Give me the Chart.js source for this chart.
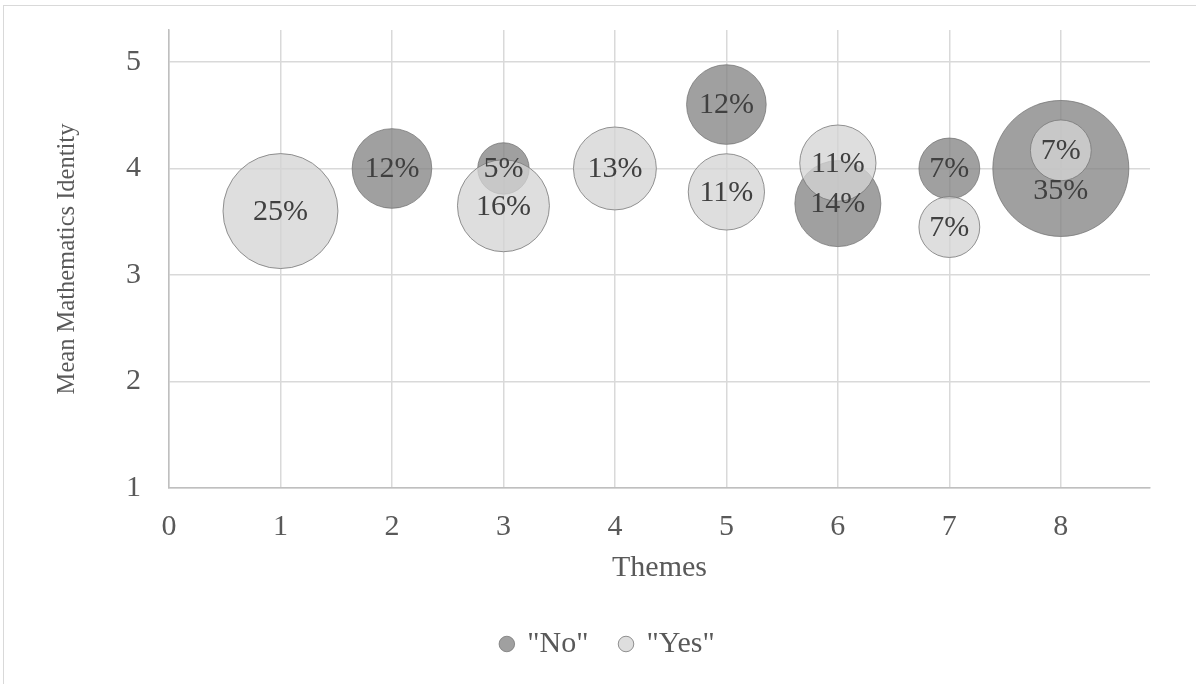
<!DOCTYPE html>
<html>
<head>
<meta charset="utf-8">
<script src="https://cdn.jsdelivr.net/npm/chart.js@4/dist/chart.umd.min.js"></script>
<style>
  html, body { margin: 0; padding: 0; background: #fff; overflow: hidden; }
  #wrap { position: relative; width: 1196px; height: 684px; }
  #frame { position: absolute; left: 3px; top: 5px; width: 1300px; height: 800px; border: 1px solid #d9d9d9; pointer-events: none; }
  canvas { position: absolute; left: 0; top: 0; }
</style>
</head>
<body>
<div id="wrap">
  <div id="frame"></div>
  <canvas id="bubbleChart" width="1196" height="684"></canvas>
</div>
<script>
// Series "No"
const themesNo = [2, 3, 5, 6, 7, 8];
const meanNo   = [4.0, 4.0, 4.6, 3.67, 4.0, 4.0];
const pctNo    = [12, 5, 12, 14, 7, 35];

// Series "Yes"
const themesYes = [1, 3, 4, 5, 6, 7, 8];
const meanYes   = [3.6, 3.65, 4.0, 3.78, 4.05, 3.45, 4.17];
const pctYes    = [25, 16, 13, 11, 11, 7, 7];

const xTicks = [0, 1, 2, 3, 4, 5, 6, 7, 8];
const yTicks = [1, 2, 3, 4, 5];

const seriesNames = ['"No"', '"Yes"'];

// bubble area proportional to the value, like Excel
const maxPct = Math.max(...pctNo, ...pctYes);
const maxRadius = 68;
function toRadius(p) { return maxRadius * Math.sqrt(p / maxPct); }

function buildPoints(xs, ys, ps) {
  return xs.map((x, i) => ({ x: x, y: ys[i], r: toRadius(ps[i]), pct: ps[i] }));
}

const serif = "'Liberation Serif', 'Times New Roman', serif";
const textGray = '#595959';

// percentage labels in the bubbles
const bubbleLabels = {
  id: 'bubbleLabels',
  afterDatasetsDraw(chart) {
    const ctx = chart.ctx;
    const items = [];
    chart.data.datasets.forEach((ds, di) => {
      const meta = chart.getDatasetMeta(di);
      meta.data.forEach((el, i) => {
        items.push({ ds: di, xv: ds.data[i].x, x: el.x, y: el.y, text: ds.data[i].pct + '%' });
      });
    });
    // push a "No" label away when it sits on top of a "Yes" label
    items.filter(a => a.ds === 0).forEach(a => {
      items.filter(b => b.ds === 1 && b.xv === a.xv).forEach(b => {
        if (Math.abs(a.y - b.y) < 30) {
          a.y = a.y >= b.y ? b.y + 40 : b.y - 40;
        }
      });
    });
    ctx.save();
    ctx.font = '30px ' + serif;
    ctx.fillStyle = '#404040';
    ctx.textAlign = 'center';
    ctx.textBaseline = 'middle';
    items.forEach(it => ctx.fillText(it.text, it.x, it.y + 1));
    ctx.restore();
  }
};

// Excel centres the legend on the whole chart frame
const legendShift = {
  id: 'legendShift',
  afterLayout(chart) {
    chart.legend.left += 33;
    chart.legend.right += 33;
  }
};

const onlyListed = list => scale => {
  scale.ticks = scale.ticks.filter(t => list.includes(Math.round(t.value * 1000) / 1000));
};

function fixSize(prop, size) {
  return s => {
    s[prop] = size;
    s.paddingTop = 0; s.paddingBottom = 0; s.paddingLeft = 0; s.paddingRight = 0;
  };
}

const ctx = document.getElementById('bubbleChart').getContext('2d');
new Chart(ctx, {
  type: 'bubble',
  data: {
    datasets: [
      {
        label: seriesNames[0],
        data: buildPoints(themesNo, meanNo, pctNo),
        backgroundColor: 'rgba(128, 128, 128, 0.75)',
        borderColor: 'rgba(110, 110, 110, 0.7)',
        borderWidth: 1,
        order: 2
      },
      {
        label: seriesNames[1],
        data: buildPoints(themesYes, meanYes, pctYes),
        backgroundColor: 'rgba(212, 212, 212, 0.77)',
        borderColor: 'rgba(120, 120, 120, 0.8)',
        borderWidth: 1,
        order: 1
      }
    ]
  },
  options: {
    responsive: false,
    devicePixelRatio: 1,
    animation: false,
    events: [],
    layout: { autoPadding: false, padding: { top: 30, right: 46, bottom: 15, left: 0 } },
    plugins: {
      tooltip: { enabled: false },
      legend: {
        position: 'bottom',
        labels: {
          usePointStyle: true,
          pointStyle: 'circle',
          boxWidth: 11,
          boxHeight: 11,
          padding: 32,
          color: textGray,
          font: { family: serif, size: 30 },
          sort: (a, b) => a.datasetIndex - b.datasetIndex
        }
      }
    },
    scales: {
      x: {
        type: 'linear',
        min: 0,
        max: 8.8,
        ticks: { stepSize: 1, includeBounds: false, padding: 21, color: textGray, font: { family: serif, size: 30 } },
        afterBuildTicks: onlyListed(xTicks),
        afterFit: fixSize('height', 109),
        grid: { color: '#d9d9d9', lineWidth: 1.5, drawTicks: false },
        border: { color: '#bfbfbf', width: 1.5 },
        title: {
          display: true,
          text: 'Themes',
          color: textGray,
          font: { family: serif, size: 30 },
          padding: { top: 0, bottom: 11 }
        }
      },
      y: {
        type: 'linear',
        min: 1,
        max: 5.3,
        ticks: { stepSize: 1, includeBounds: false, padding: 28, color: textGray, font: { family: serif, size: 30 } },
        afterBuildTicks: onlyListed(yTicks),
        afterFit: fixSize('width', 169),
        grid: { color: '#d9d9d9', lineWidth: 1.5, drawTicks: false },
        border: { color: '#bfbfbf', width: 1.5 },
        title: {
          display: true,
          text: 'Mean Mathematics Identity',
          color: textGray,
          font: { family: serif, size: 24.5 },
          padding: { top: 53, bottom: 0 }
        }
      }
    }
  },
  plugins: [bubbleLabels, legendShift]
});
</script>
</body>
</html>
